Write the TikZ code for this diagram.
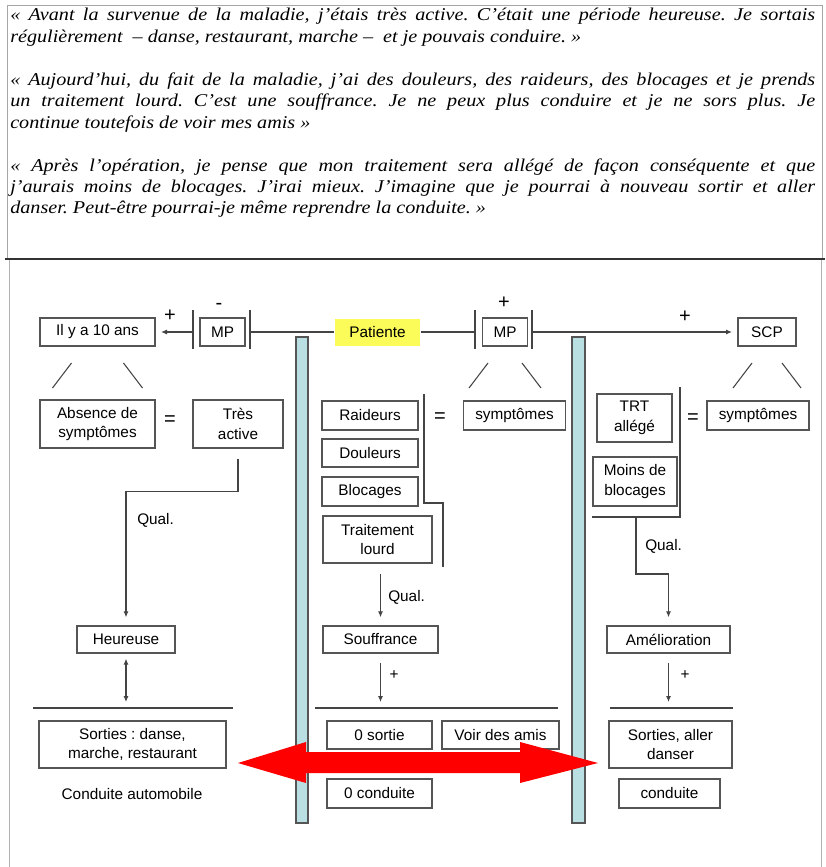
\documentclass[tikz,border=0pt]{standalone}
\usepackage{fontspec}
\setmainfont{Liberation Sans}
\newfontfamily\quotefont{Liberation Serif}[FakeStretch=1.12]
\usetikzlibrary{arrows.meta}
\frenchspacing

\definecolor{bargreen}{HTML}{B9DFE2}
\definecolor{boxgray}{HTML}{555555}
\definecolor{hiyellow}{HTML}{FBFB5A}

\tikzset{
  box/.style 2 args={draw=boxgray, line width=1pt, fill=white, align=center, inner sep=0pt,
    minimum width=#1*0.75pt, minimum height=#2*0.75pt, font=\fontsize{11.5}{14.6}\selectfont},
  lbl/.style={inner sep=0pt, font=\fontsize{11.5}{14.6}\selectfont},
  sign/.style={inner sep=0pt, font=\fontsize{15}{18}\selectfont},
  conn/.style={draw=boxgray!80!black, line width=0.8pt},
  arr/.style={conn, -{Latex[length=4.5pt,width=3.75pt]}},
  darr/.style={conn, {Latex[length=4.5pt,width=3.75pt]}-{Latex[length=4.5pt,width=3.75pt]}},
  sbar/.style={fill=bargreen, draw=boxgray, line width=0.8pt},
}

\newcommand{\qline}[1]{\makebox[603.75pt][s]{#1}}

\begin{document}
\begin{tikzpicture}[x=0.75pt,y=0.75pt,yscale=-1,xscale=1]
\useasboundingbox (0,0) rectangle (825,867);

% frames
\draw[gray!70, line width=0.6pt] (7,5) rectangle (822,259);
\draw[gray!60, line width=0.6pt] (9,259) -- (9,867);
\draw[gray!60, line width=0.6pt] (821,259) -- (821,867);
\draw[black!80, line width=1.3pt] (5,259) -- (825,259);

% quotes
\node[anchor=north west, inner sep=0pt, align=left,
  font=\quotefont\itshape\fontsize{13.5}{16.1}\selectfont] (quotes) at (10,8) {%
\qline{«~Avant la survenue de la maladie, j’étais très active. C’était une période heureuse. Je sortais}\\
régulièrement \ – danse, restaurant, marche – \ et je pouvais conduire.~»\\[16.1pt]
\qline{«~Aujourd’hui, du fait de la maladie, j’ai des douleurs, des raideurs, des blocages et je prends}\\
\qline{un traitement lourd. C’est une souffrance. Je ne peux plus conduire et je ne sors plus. Je}\\
continue toutefois de voir mes amis~»\\[16.1pt]
\qline{«~Après l’opération, je pense que mon traitement sera allégé de façon conséquente et que}\\
\qline{j’aurais moins de blocages. J’irai mieux. J’imagine que je pourrai à nouveau sortir et aller}\\
danser. Peut-être pourrai-je même reprendre la conduite.~»};

% time bars
\draw[sbar] (296,337) rectangle (308,823);
\draw[sbar] (572,337) rectangle (585,823);

% top row
\node[box={115}{28}] (ily) at (97.5,332) {Il y a 10 ans};
\node[box={45}{28}] (mpL) at (222.5,332) {MP};
\node[box={85}{27}, draw=none, fill=hiyellow] (patiente) at (377.5,332) {Patiente};
\node[box={45}{28}] (mpR) at (505,332) {MP};
\node[box={58}{28}] (scp) at (767,332) {SCP};

\coordinate (mpLw) at (193,332);
\coordinate (mpLe) at (250,332);
\coordinate (mpRw) at (475,332);
\coordinate (mpRe) at (532,332);
\foreach \c in {mpLw,mpLe,mpRw,mpRe}
  \draw[conn] (\c) ++(0,-22) -- ++(0,39);

\draw[arr, shorten >=4pt] (mpLw) -- (ily.east);
\draw[conn] (mpLe) -- (patiente.west);
\draw[conn] (patiente.east) -- (mpRw);
\draw[arr, shorten >=4pt] (mpRe) -- (scp.west);

\node[sign] (plusA) at (170,316) {+};
\node[sign] (minusA) at (219,306) {-};
\node[sign] (plusB) at (504,303) {+};
\node[sign] (plusC) at (685,317) {+};

% branches
\foreach \cx/\d in {97.5/45, 505/36, 767/34} {
  \draw[conn] (\cx-\d,388) -- (\cx-\d+19,363);
  \draw[conn] (\cx+\d-19,363) -- (\cx+\d,388);
}

% second row
\node[box={115}{48}] (absence) at (97.5,424) {Absence de\\symptômes};
\node[sign] (eqA) at (170,421) {=};
\node[box={90}{48}] (tres) at (238,424) {Très\\active};

\node[box={96}{29}] (raideurs) at (370,415.5) {Raideurs};
\node[box={96}{28}] (douleurs) at (370,453) {Douleurs};
\node[box={96}{29}] (blocages) at (370,491.5) {Blocages};
\node[box={109}{47}] (traitement) at (377.5,539.5) {Traitement\\lourd};
\node[sign] (eqB) at (440,418) {=};
\node[box={102}{29}] (symptM) at (514.5,415.5) {symptômes};

\node[box={75}{48}] (trt) at (634.5,418) {TRT\\allégé};
\node[box={84}{49}] (moins) at (635,481.5) {Moins de\\blocages};
\node[sign] (eqC) at (693,419) {=};
\node[box={102}{29}] (symptR) at (758,415.5) {symptômes};

\draw[conn] (424,394) -- (424,503) -- (443,503) -- (443,567);
\draw[conn] (680,387) -- (680,517) -- (592,517);
\coordinate (brR) at (636,517);

% third row
\node[box={98}{27}] (heureuse) at (126,639.5) {Heureuse};
\node[box={115}{27}] (souffrance) at (380.5,639.5) {Souffrance};
\node[box={123}{27}] (amelioration) at (668.5,639.5) {Amélioration};

\draw[arr, shorten <=7.5pt, shorten >=6pt] (tres.south) -- ++(0,43) -| (heureuse.north);
\draw[arr, shorten <=7.5pt, shorten >=6pt] (souffrance.north |- traitement.south) -- (souffrance.north);
\draw[arr, shorten >=6pt] (brR) -- ++(0,57) -| (amelioration.north);

\node[lbl, anchor=west] (qualA) at (137,520) {Qual.};
\node[lbl, anchor=west] (qualB) at (388,597) {Qual.};
\node[lbl, anchor=west] (qualC) at (645,546) {Qual.};

% separators
\draw[conn] (33,708) -- (233,708);
\draw[conn] (315,708) -- (558,708);
\draw[conn] (610,708) -- (733,708);
\coordinate (sepL) at (126,708);
\coordinate (sepM) at (380.5,708);
\coordinate (sepR) at (668.5,708);

\draw[darr, shorten <=3.75pt, shorten >=4.5pt] (heureuse.south) -- (sepL);
\draw[arr, shorten <=6.75pt, shorten >=4.5pt] (souffrance.south) -- (sepM);
\draw[arr, shorten <=6.75pt, shorten >=4.5pt] (amelioration.south) -- (sepR);
\node[lbl] (plusD) at (394,675) {+};
\node[lbl] (plusE) at (685,675) {+};

% fourth row
\node[box={187}{47}] (sortiesL) at (132.5,744.5) {Sorties : danse,\\marche, restaurant};
\node[lbl] (conduiteAuto) at (132,794) {Conduite automobile};
\node[box={105}{28}] (zeroSortie) at (379.5,735) {0 sortie};
\node[box={117}{28}] (voirAmis) at (500.5,735) {Voir des amis};
\node[box={105}{29}] (zeroConduite) at (379.5,793.5) {0 conduite};
\node[box={123}{47}] (sortiesR) at (670.5,744.5) {Sorties, aller\\danser};
\node[box={101}{29}] (conduite) at (669.5,793.5) {conduite};

% big red arrow
\fill[red] (238,763) -- (306,742) -- (306,752) -- (520,752) -- (520,742) -- (598,763)
  -- (520,783) -- (520,773) -- (306,773) -- (306,783) -- cycle;

\end{tikzpicture}
\end{document}
